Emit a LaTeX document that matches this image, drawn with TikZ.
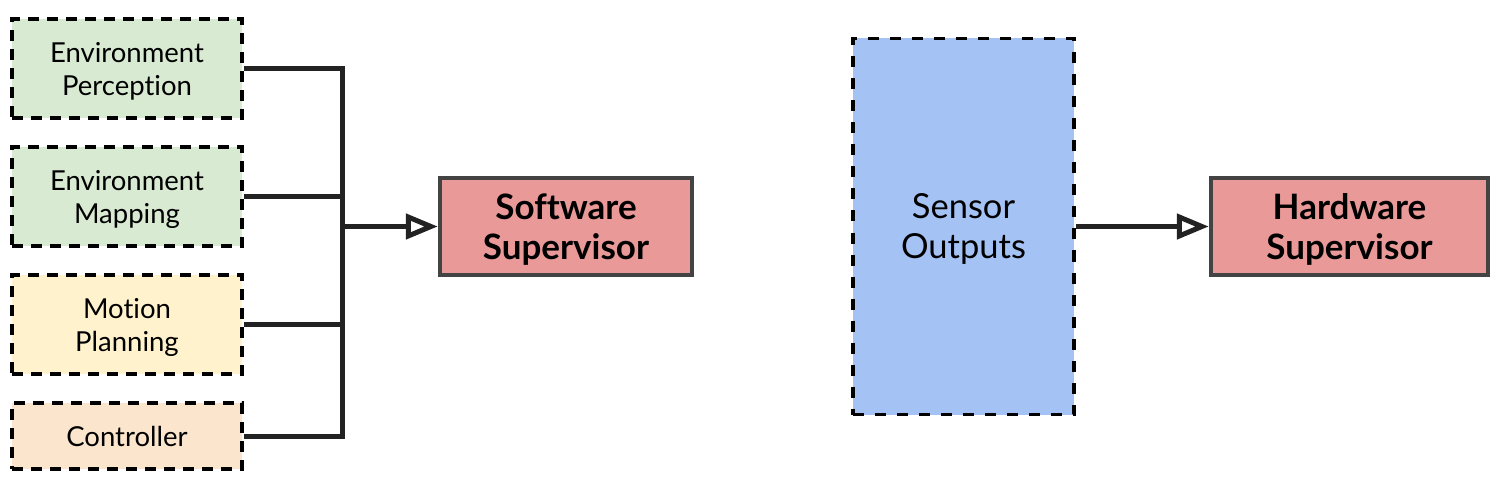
\documentclass[tikz,border=0pt]{standalone}
\usepackage{fontspec}
\setmainfont{Lato}[Ligatures=NoCommon]
\usepackage{tikz}
\usetikzlibrary{shapes, arrows.meta, positioning}
\definecolor{pgreen}{HTML}{D9EAD3}
\definecolor{pyellow}{HTML}{FFF2CC}
\definecolor{porange}{HTML}{FCE5CD}
\definecolor{pred}{HTML}{EA9999}
\definecolor{pblue}{HTML}{A4C2F4}
\definecolor{pborder}{HTML}{434343}
\definecolor{pline}{HTML}{222222}
\tikzstyle{module} = [rectangle, draw=black, line width=3.5pt,
    dash pattern=on 11pt off 8pt, minimum width=230pt, minimum height=99pt,
    align=center, text depth=0pt, font=\fontsize{27.5}{33}\selectfont]
\tikzstyle{supervisor} = [rectangle, draw=pborder, fill=pred, line width=4.5pt,
    minimum width=252pt, minimum height=97pt, align=center, text depth=0pt,
    font=\fontsize{35}{40}\selectfont\bfseries]
\tikzstyle{sensor} = [rectangle, draw=black, fill=pblue, line width=3.5pt,
    dash pattern=on 11pt off 11pt, minimum width=221pt, minimum height=376pt,
    align=center, text depth=0pt, font=\fontsize{34.5}{40}\selectfont]
\tikzstyle{bus} = [draw=pline, line width=5pt]
\tikzstyle{line} = [draw=pline, line width=5pt,
    -{Triangle[open, length=32pt, width=25pt, line width=5pt]}]

\begin{document}
\begin{tikzpicture}[node distance = 128pt]
    \useasboundingbox (0,0) rectangle (1495pt,-478pt);
    % Nodes
    \node [module, fill=pgreen] (per) at (127pt,-68.5pt) {Environment\\Perception};
    \node [module, fill=pgreen, below of=per] (map) {Environment\\Mapping};
    \node [module, fill=pyellow, below of=map] (plan) {Motion\\Planning};
    \node [module, fill=porange, minimum height=66pt, below of=plan,
        node distance=111.5pt] (ctrl) {Controller};
    \coordinate (bus) at (342pt,0);
    \node [supervisor, minimum width=252pt] (sw) at (566pt,-226.5pt) {Software\\Supervisor};
    \node [sensor] (sensors) at (963.5pt,-226.5pt) {Sensor\\Outputs};
    \node [supervisor, minimum width=277pt] (hw) at (1349.5pt,-226.5pt) {Hardware\\Supervisor};
    % Edges
    \path [bus] (per.east) -- (per.east -| bus) |- (ctrl.east);
    \path [bus] (map.east) -- (map.east -| bus);
    \path [bus] (plan.east) -- (plan.east -| bus);
    \path [line] (sw.west -| bus) -- (sw.west);
    \path [line] (sensors.east) -- (hw.west);
\end{tikzpicture}
\end{document}
